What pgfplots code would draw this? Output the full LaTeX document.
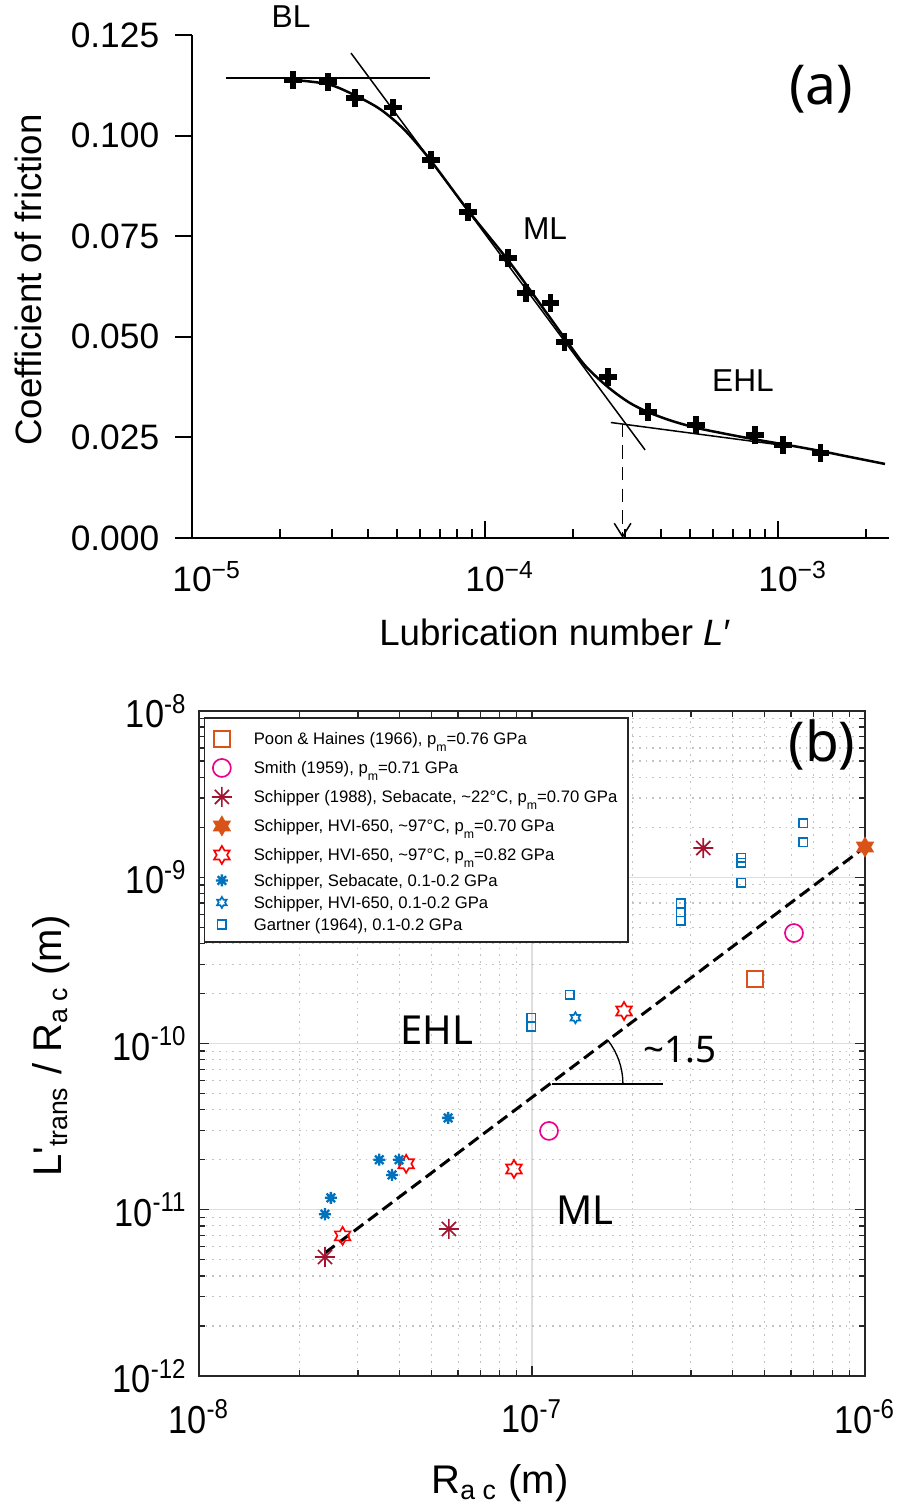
\documentclass[border=0pt]{standalone}
\usepackage{fontspec}
\setmainfont{Liberation Sans}
\newfontfamily\notosans{Noto Sans}
\newfontfamily\narrowsans[FakeStretch=0.88]{Liberation Sans}
\usepackage{pgfplots}
\pgfplotsset{compat=1.18}
\usetikzlibrary{arrows.meta}

\definecolor{mlorange}{RGB}{217,83,25}
\definecolor{mlred}{RGB}{162,20,47}
\definecolor{mlblue}{RGB}{0,114,189}
\definecolor{gridmajor}{RGB}{222,222,222}
\definecolor{gridminor}{RGB}{195,195,195}
\definecolor{axgray}{RGB}{38,38,38}

% six-pointed star (MATLAB hexagram)
\pgfdeclareplotmark{hexagram}{%
  \pgfpathmoveto{\pgfpointpolar{90}{\pgfplotmarksize}}%
  \pgfpathlineto{\pgfpointpolar{120}{0.577\pgfplotmarksize}}%
  \pgfpathlineto{\pgfpointpolar{150}{\pgfplotmarksize}}%
  \pgfpathlineto{\pgfpointpolar{180}{0.577\pgfplotmarksize}}%
  \pgfpathlineto{\pgfpointpolar{210}{\pgfplotmarksize}}%
  \pgfpathlineto{\pgfpointpolar{240}{0.577\pgfplotmarksize}}%
  \pgfpathlineto{\pgfpointpolar{270}{\pgfplotmarksize}}%
  \pgfpathlineto{\pgfpointpolar{300}{0.577\pgfplotmarksize}}%
  \pgfpathlineto{\pgfpointpolar{330}{\pgfplotmarksize}}%
  \pgfpathlineto{\pgfpointpolar{0}{0.577\pgfplotmarksize}}%
  \pgfpathlineto{\pgfpointpolar{30}{\pgfplotmarksize}}%
  \pgfpathlineto{\pgfpointpolar{60}{0.577\pgfplotmarksize}}%
  \pgfpathclose
  \pgfusepathqstroke
}
\pgfdeclareplotmark{hexagram*}{%
  \pgfpathmoveto{\pgfpointpolar{90}{\pgfplotmarksize}}%
  \pgfpathlineto{\pgfpointpolar{120}{0.577\pgfplotmarksize}}%
  \pgfpathlineto{\pgfpointpolar{150}{\pgfplotmarksize}}%
  \pgfpathlineto{\pgfpointpolar{180}{0.577\pgfplotmarksize}}%
  \pgfpathlineto{\pgfpointpolar{210}{\pgfplotmarksize}}%
  \pgfpathlineto{\pgfpointpolar{240}{0.577\pgfplotmarksize}}%
  \pgfpathlineto{\pgfpointpolar{270}{\pgfplotmarksize}}%
  \pgfpathlineto{\pgfpointpolar{300}{0.577\pgfplotmarksize}}%
  \pgfpathlineto{\pgfpointpolar{330}{\pgfplotmarksize}}%
  \pgfpathlineto{\pgfpointpolar{0}{0.577\pgfplotmarksize}}%
  \pgfpathlineto{\pgfpointpolar{30}{\pgfplotmarksize}}%
  \pgfpathlineto{\pgfpointpolar{60}{0.577\pgfplotmarksize}}%
  \pgfpathclose
  \pgfusepathqfillstroke
}
% eight-armed asterisk (MATLAB '*')
\pgfdeclareplotmark{ast8}{%
  \pgfpathmoveto{\pgfpointpolar{0}{\pgfplotmarksize}}\pgfpathlineto{\pgfpointpolar{180}{\pgfplotmarksize}}%
  \pgfpathmoveto{\pgfpointpolar{90}{\pgfplotmarksize}}\pgfpathlineto{\pgfpointpolar{270}{\pgfplotmarksize}}%
  \pgfpathmoveto{\pgfpointpolar{45}{\pgfplotmarksize}}\pgfpathlineto{\pgfpointpolar{225}{\pgfplotmarksize}}%
  \pgfpathmoveto{\pgfpointpolar{135}{\pgfplotmarksize}}\pgfpathlineto{\pgfpointpolar{315}{\pgfplotmarksize}}%
  \pgfusepathqstroke
}

% legend helpers: lowered subscript and row struts
\newcommand{\lsub}[1]{\raisebox{-2pt}{\fontsize{3.7pt}{4pt}\selectfont #1}}
\newcommand{\tallrow}{\rule[-2.55pt]{0pt}{8.7pt}}
\newcommand{\shortrow}{\rule[-1.5pt]{0pt}{6.6pt}}

\begin{document}
\begin{tikzpicture}[x=0.3pt,y=0.3pt]
\useasboundingbox (0,0) rectangle (897,1508);

% ---------------- (a) friction vs lubrication number
\begin{axis}[
  at={(57.6pt,291pt)}, anchor=south west,
  scale only axis, width=209.2pt, height=150.9pt,
  xmode=log, xmin=1e-5, xmax=2.4e-3,
  ymin=0, ymax=0.125,
  axis lines=left,
  axis line style={-, line width=0.6pt},
  clip=false,
  tick align=inside,
  major tick length=5pt, minor tick length=2.7pt,
  tick style={black, line width=0.6pt},
  ytick style={xshift=-5pt},
  xtick={1e-5,1e-4,1e-3},
  xticklabels={10\textsuperscript{−5},10\textsuperscript{−4},10\textsuperscript{−3}},
  minor xtick={2e-5,3e-5,4e-5,5e-5,6e-5,7e-5,8e-5,9e-5,2e-4,3e-4,4e-4,5e-4,6e-4,7e-4,8e-4,9e-4,2e-3},
  ytick={0,0.025,0.05,0.075,0.1,0.125},
  yticklabels={0.000,0.025,0.050,0.075,0.100,0.125},
  ticklabel style={font=\fontsize{10.6pt}{12pt}\selectfont},
  yticklabel style={xshift=-6.3pt},
  xticklabel style={anchor=north west, xshift=-9.4pt, yshift=-3.5pt},
  label style={font=\fontsize{11pt}{13pt}\selectfont},
  xlabel={Lubrication number \textit{L}′},
  ylabel={Coefficient of friction},
  xlabel style={at={(axis description cs:0.5205,-0.213)}, anchor=base},
  ylabel style={at={(axis description cs:-0.2151,0.513)}, anchor=base},
]
% regime tangents
\addplot[black, line width=0.45pt] coordinates {(1.31e-5,0.1143) (6.49e-5,0.1143)};
\addplot[black, line width=0.45pt] coordinates {(3.49e-5,0.1205) (3.52e-4,0.0219)};
\addplot[black, line width=0.45pt] coordinates {(2.69e-4,0.0287) (1.0e-3,0.0232)};
% fitted Stribeck curve
\addplot[black, line width=0.75pt, smooth] coordinates {
  (2.1e-5,0.1140) (2.9e-5,0.1128) (3.6e-5,0.1100) (4.4e-5,0.1065)
  (5.3e-5,0.1015) (6.5e-5,0.0940) (8.8e-5,0.0812) (1.2e-4,0.0690)
  (1.5e-4,0.0594) (1.9e-4,0.0490) (2.2e-4,0.0428) (2.63e-4,0.0375)
  (3.1e-4,0.0337) (3.6e-4,0.0313) (4.3e-4,0.0292) (5.25e-4,0.0274)
  (6.5e-4,0.0260) (8.35e-4,0.0245) (1.1e-3,0.0230) (1.4e-3,0.0216)
  (1.8e-3,0.0200) (2.32e-3,0.0184)};
% transition arrow
\addplot[black, line width=0.45pt, dash pattern=on 4pt off 2.5pt,
  -{Straight Barb[length=4pt,width=5pt]}] coordinates {(2.95e-4,0.0284) (2.95e-4,0)};
% measurements
\addplot[only marks, mark=+, mark size=2.6pt, mark options={line width=1.6pt}] coordinates {
  (2.21e-5,0.1138) (2.91e-5,0.1133) (3.60e-5,0.1093) (4.85e-5,0.1069)
  (6.55e-5,0.0939) (8.75e-5,0.0810) (1.20e-4,0.0696) (1.38e-4,0.0609)
  (1.67e-4,0.0584) (1.87e-4,0.0487) (2.63e-4,0.0400) (3.60e-4,0.0313)
  (5.25e-4,0.0281) (8.35e-4,0.0256) (1.04e-3,0.0231) (1.40e-3,0.0211)};
\end{axis}

\node[font=\fontsize{9.5pt}{11pt}\selectfont, anchor=base] at (291,1480) {BL};
\node[font=\fontsize{9.5pt}{11pt}\selectfont, anchor=base] at (545,1268) {ML};
\node[font=\fontsize{9.5pt}{11pt}\selectfont, anchor=base] at (743,1116) {EHL};
\node[font=\notosans\fontsize{16.5pt}{19pt}\selectfont] at (821,1419) {(a)};

% ---------------- (b) transition map
\begin{axis}[
  at={(59.7pt,39.6pt)}, anchor=south west,
  scale only axis, width=199.8pt, height=199.5pt,
  xmode=log, ymode=log,
  xmin=1e-8, xmax=1e-6, ymin=1e-12, ymax=1e-8,
  clip=false,
  axis line style={axgray, line width=0.45pt},
  tick style={axgray, line width=0.4pt},
  tick align=inside, major tick length=3pt, minor tick length=1.8pt,
  grid=both,
  major grid style={gridmajor, line width=0.4pt},
  minor grid style={gridminor, line width=0.35pt, dash pattern=on 0.5pt off 1.5pt},
  xtick={1e-8,1e-7,1e-6},
  xticklabels={10\textsuperscript{-8},10\textsuperscript{-7},10\textsuperscript{-6}},
  ytick={1e-12,1e-11,1e-10,1e-9,1e-8},
  yticklabels={10\textsuperscript{-12},10\textsuperscript{-11},10\textsuperscript{-10},10\textsuperscript{-9},10\textsuperscript{-8}},
  minor xtick={2e-8,3e-8,4e-8,5e-8,6e-8,7e-8,8e-8,9e-8,2e-7,3e-7,4e-7,5e-7,6e-7,7e-7,8e-7,9e-7},
  minor ytick={2e-12,3e-12,4e-12,5e-12,6e-12,7e-12,8e-12,9e-12,
               2e-11,3e-11,4e-11,5e-11,6e-11,7e-11,8e-11,9e-11,
               2e-10,3e-10,4e-10,5e-10,6e-10,7e-10,8e-10,9e-10,
               2e-9,3e-9,4e-9,5e-9,6e-9,7e-9,8e-9,9e-9},
  ticklabel style={font=\narrowsans\fontsize{11.7pt}{14pt}\selectfont},
  xticklabel style={yshift=-3.5pt},
  label style={font=\fontsize{12pt}{14pt}\selectfont},
  xlabel={R\textsubscript{a c} (m)},
  ylabel={L\textquotesingle\textsubscript{trans} / R\textsubscript{a c} (m)},
  xlabel style={at={(axis description cs:0.452,-0.176)}, anchor=base},
  ylabel style={at={(axis description cs:-0.2057,0.496)}, anchor=base},
  legend cell align=left,
  legend image code/.code={\draw[mark repeat=2,mark phase=2,#1] plot coordinates {(0cm,0cm) (0.15cm,0cm) (0.3cm,0cm)};},
  legend style={at={(axis description cs:0.0075,0.991)}, anchor=north west,
    draw=axgray, line width=0.45pt, fill=white,
    font=\fontsize{5pt}{6pt}\selectfont,
    inner xsep=2.15pt, inner ysep=2pt,
    row sep=0pt, column sep=5.6pt,
    nodes={inner xsep=1pt, inner ysep=0pt, text depth=}},
]
% slope 1.5 guide
\addplot[forget plot, black, line width=0.9pt, dash pattern=on 3.6pt off 1.8pt] coordinates {(2.39e-8,5.5e-12) (1.0e-6,1.52e-9)};
\addplot[forget plot, black, line width=0.4pt] coordinates {(1.148e-7,5.71e-11) (2.47e-7,5.71e-11)};
\draw[black, line width=0.4pt] (axis cs:1.148e-7,5.71e-11) ++(21.3pt,0pt) arc[start angle=0, end angle=38, radius=21.3pt];

\addplot[only marks, mark=square, mark size=2.4pt, mlorange, mark options={line width=0.5pt}]
  coordinates {(4.68e-7,2.45e-10)};
\addlegendentry{\tallrow Poon \& Haines (1966), p\lsub{m}=0.76 GPa}
\addplot[only marks, mark=o, mark size=2.7pt, magenta, mark options={line width=0.5pt}]
  coordinates {(6.12e-7,4.62e-10) (1.125e-7,2.98e-11)};
\addlegendentry{\tallrow Smith (1959), p\lsub{m}=0.71 GPa}
\addplot[only marks, mark=ast8, mark size=3pt, mlred, mark options={line width=0.5pt}]
  coordinates {(3.27e-7,1.50e-9) (5.63e-8,7.67e-12) (2.39e-8,5.2e-12)};
\addlegendentry{\tallrow Schipper (1988), Sebacate, \textasciitilde 22°C, p\lsub{m}=0.70 GPa}
\addplot[only marks, mark=hexagram*, mark size=2.7pt, mlorange, mark options={line width=0.5pt, fill=mlorange}]
  coordinates {(1.0e-6,1.52e-9)};
\addlegendentry{\tallrow Schipper, HVI-650, \textasciitilde 97°C, p\lsub{m}=0.70 GPa}
\addplot[only marks, mark=hexagram, mark size=2.7pt, red, mark options={line width=0.5pt}]
  coordinates {(1.89e-7,1.57e-10) (8.83e-8,1.76e-11) (4.19e-8,1.89e-11) (2.7e-8,6.97e-12)};
\addlegendentry{\tallrow Schipper, HVI-650, \textasciitilde 97°C, p\lsub{m}=0.82 GPa}
\addplot[only marks, mark=ast8, mark size=1.8pt, mlblue, mark options={line width=0.7pt}]
  coordinates {(5.6e-8,3.57e-11) (3.48e-8,2.0e-11) (3.99e-8,2.0e-11) (3.8e-8,1.62e-11) (2.49e-8,1.18e-11) (2.39e-8,9.4e-12)};
\addlegendentry{\shortrow Schipper, Sebacate, 0.1-0.2 GPa}
\addplot[only marks, mark=hexagram, mark size=1.65pt, mlblue, mark options={line width=0.5pt}]
  coordinates {(1.35e-7,1.43e-10)};
\addlegendentry{\shortrow Schipper, HVI-650, 0.1-0.2 GPa}
\addplot[only marks, mark=square, mark size=1.3pt, mlblue, mark options={line width=0.5pt}]
  coordinates {(1.30e-7,1.96e-10) (9.94e-8,1.43e-10) (9.94e-8,1.26e-10)
    (2.8e-7,7.0e-10) (2.8e-7,6.18e-10) (2.8e-7,5.46e-10)
    (4.25e-7,1.31e-9) (4.25e-7,1.22e-9) (4.25e-7,9.25e-10)
    (6.52e-7,2.12e-9) (6.52e-7,1.63e-9)};
\addlegendentry{\shortrow Gartner (1964), 0.1-0.2 GPa}
\end{axis}

\node[font=\notosans\fontsize{16.5pt}{19pt}\selectfont] at (822,763) {(b)};
\node[font=\notosans\fontsize{12pt}{14pt}\selectfont, anchor=base] at (437,463) {EHL};
\node[font=\notosans\fontsize{12pt}{14pt}\selectfont, anchor=base] at (585,283) {ML};
\node[font=\notosans\fontsize{11pt}{13pt}\selectfont, anchor=base] at (680,445) {\textasciitilde 1.5};
\end{tikzpicture}
\end{document}
